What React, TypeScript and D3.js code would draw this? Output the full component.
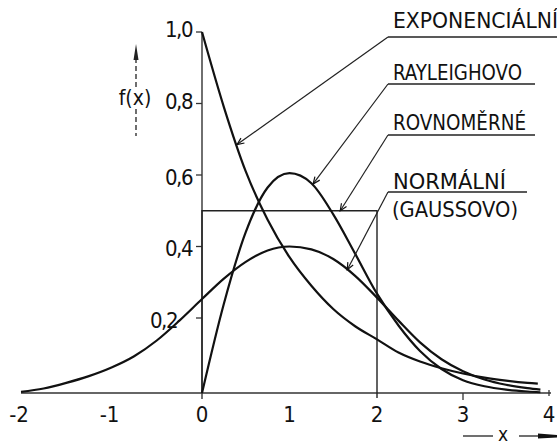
import React from "react";
import * as d3 from "d3";

// values
const expX = [0, 0.25, 0.5, 0.75, 1, 1.25, 1.5, 1.75, 2, 2.25, 2.5, 2.75, 3, 3.25, 3.5, 3.75, 3.87];
const expY = [1.0, 0.79, 0.61, 0.475, 0.37, 0.29, 0.225, 0.178, 0.143, 0.108, 0.084, 0.066, 0.052, 0.041, 0.033, 0.027, 0.025];

const rayX = [0, 0.25, 0.5, 0.75, 1, 1.25, 1.5, 1.75, 2, 2.25, 2.5, 2.75, 3, 3.25, 3.5, 3.75, 3.9];
const rayY = [0, 0.24, 0.44, 0.565, 0.605, 0.577, 0.49, 0.38, 0.268, 0.18, 0.112, 0.064, 0.034, 0.018, 0.009, 0.004, 0.002];

const normX = [-2, -1.75, -1.5, -1.25, -1, -0.75, -0.5, -0.25, 0, 0.25, 0.5, 0.75, 1, 1.25, 1.5, 1.75, 2, 2.25, 2.5, 2.75, 3, 3.25, 3.5, 3.75, 3.9];
const normY = [0.003, 0.012, 0.027, 0.045, 0.068, 0.098, 0.14, 0.193, 0.253, 0.31, 0.357, 0.389, 0.4, 0.392, 0.365, 0.318, 0.257, 0.193, 0.135, 0.09, 0.058, 0.036, 0.022, 0.013, 0.009];

const unifRange = [0, 2];
const unifValue = 0.5;

const xTicks = [-2, -1, 0, 1, 2, 3, 4];
const xTickLabels = ["-2", "-1", "0", "1", "2", "3", "4"];
const yTicks = [0.2, 0.4, 0.6, 0.8, 1.0];
const yTickLabels = ["0,2", "0,4", "0,6", "0,8", "1,0"];

const labelNames = ["EXPONENCIÁLNÍ", "RAYLEIGHOVO", "ROVNOMĚRNÉ", "NORMÁLNÍ"];
// point on each curve the leader arrow touches
const labelTargets: [number, number][] = [[0.4, 0.685], [1.27, 0.575], [1.58, 0.5], [1.66, 0.335]];

const W = 557;
const H = 446;
const FONT = "'DejaVu Sans Condensed', 'DejaVu Sans', sans-serif";

const x = d3.scaleLinear().domain([-2, 0, 2, 4]).range([21, 202, 377, 549]);
const y = d3.scaleLinear().domain([0, 0.2, 1]).range([393, 318, 32]);

const line = d3
  .line<[number, number]>()
  .x((d) => x(d[0]))
  .y((d) => y(d[1]))
  .curve(d3.curveMonotoneX);

const zip = (a: number[], b: number[]) => a.map((v, i) => [v, b[i]] as [number, number]);

// label layout: baseline y, underline y, text width, underline end
const labelLayout = [
  { ty: 28, uy: 37, w: 165, ux1: 557 },
  { ty: 80, uy: 84, w: 129, ux1: 535 },
  { ty: 130, uy: 135, w: 133, ux1: 535 },
  { ty: 189, uy: 192, w: 113, ux1: 527 },
];

function Arrowhead({ x1, y1, x2, y2 }: { x1: number; y1: number; x2: number; y2: number }) {
  const a = Math.atan2(y2 - y1, x2 - x1);
  const len = 7;
  const wid = 3;
  const bx = x2 - len * Math.cos(a);
  const by = y2 - len * Math.sin(a);
  const p1 = [bx + wid * Math.sin(a), by - wid * Math.cos(a)];
  const p2 = [bx - wid * Math.sin(a), by + wid * Math.cos(a)];
  return <path d={`M${p1[0]},${p1[1]}L${x2},${y2}L${p2[0]},${p2[1]}`} fill="none" stroke="#111" strokeWidth={1.2} />;
}

export default function App() {
  const curves = [zip(expX, expY), zip(rayX, rayY), zip(normX, normY)];
  const unifPath = `M${x(unifRange[0])},${y(0)}L${x(unifRange[0])},${y(unifValue)}L${x(unifRange[1])},${y(unifValue)}L${x(unifRange[1])},${y(0) + 5}`;

  return (
    <svg
      width={W}
      height={H}
      style={{ position: "absolute", left: 0, top: 0, background: "#fff" }}
      fontFamily={FONT}
    >
      {/* axes */}
      <line x1={x(-2)} x2={x(4) + 2} y1={y(0)} y2={y(0)} stroke="#333" strokeWidth={1.4} />
      <line x1={x(0)} x2={x(0)} y1={y(0) + 6} y2={y(1)} stroke="#333" strokeWidth={1.4} />
      {yTicks.map((t, i) => (
        <g key={t}>
          <line x1={x(0) - 6} x2={x(0)} y1={y(t)} y2={y(t)} stroke="#333" strokeWidth={1.3} />
          <text
            x={t === 0.2 ? 177 : 192}
            y={y(t) + (t === 1 ? -3 : t === 0.8 ? -2 : 2)}
            textAnchor="end"
            dominantBaseline="central"
            fontSize={22}
            letterSpacing={-1.5}
            fill="#111"
          >
            {yTickLabels[i]}
          </text>
        </g>
      ))}
      <line x1={x(3)} x2={x(3)} y1={y(0)} y2={y(0) + 7} stroke="#333" strokeWidth={1.3} />
      <line x1={x(4)} x2={x(4)} y1={y(0) - 3} y2={y(0) + 3} stroke="#333" strokeWidth={1.3} />
      {xTicks.map((t, i) => (
        <text key={t} x={x(t) + (t < 0 ? -2 : 0)} y={422} textAnchor="middle" fontSize={22} fill="#111">
          {xTickLabels[i]}
        </text>
      ))}

      {/* f(x) label with dashed arrow */}
      <line x1={136} x2={136} y1={58} y2={87} stroke="#222" strokeWidth={1.3} strokeDasharray="5,3" />
      <path d="M136,44L133.5,60L138.5,60Z" fill="#222" />
      <line x1={136} x2={136} y1={109} y2={136} stroke="#222" strokeWidth={1.3} strokeDasharray="5,3" />
      <text x={135} y={98} textAnchor="middle" dominantBaseline="central" fontSize={21} fill="#111">
        f(x)
      </text>

      {/* x label with arrow */}
      <line x1={463} x2={493} y1={436} y2={436} stroke="#222" strokeWidth={1.3} />
      <text x={503} y={441} textAnchor="middle" fontSize={19} fill="#111">
        x
      </text>
      <line x1={519} x2={545} y1={436} y2={436} stroke="#222" strokeWidth={1.3} />
      <path d="M538,433.5L557,435L557,437.5L538,438.5Z" fill="#111" />

      {/* uniform */}
      <path d={unifPath} fill="none" stroke="#222" strokeWidth={1.4} />

      {/* curves */}
      {curves.map((c, i) => (
        <path key={i} d={line(c) ?? ""} fill="none" stroke="#111" strokeWidth={2.2} />
      ))}

      {/* labels with leaders */}
      {labelNames.map((name, i) => {
        const L = labelLayout[i];
        const kx = 388;
        const tx = x(labelTargets[i][0]);
        const ty = y(labelTargets[i][1]);
        return (
          <g key={name}>
            <line x1={kx} x2={L.ux1} y1={L.uy} y2={L.uy} stroke="#222" strokeWidth={1.3} />
            <line x1={kx} x2={tx} y1={L.uy} y2={ty} stroke="#222" strokeWidth={1.2} />
            <Arrowhead x1={kx} y1={L.uy} x2={tx} y2={ty} />
            <text
              x={393}
              y={L.ty}
              fontSize={21}
              textLength={L.w}
              lengthAdjust="spacingAndGlyphs"
              fill="#111"
            >
              {name}
            </text>
          </g>
        );
      })}
      <text x={392} y={217} fontSize={21} textLength={126} lengthAdjust="spacingAndGlyphs" fill="#111">
        (GAUSSOVO)
      </text>
    </svg>
  );
}
